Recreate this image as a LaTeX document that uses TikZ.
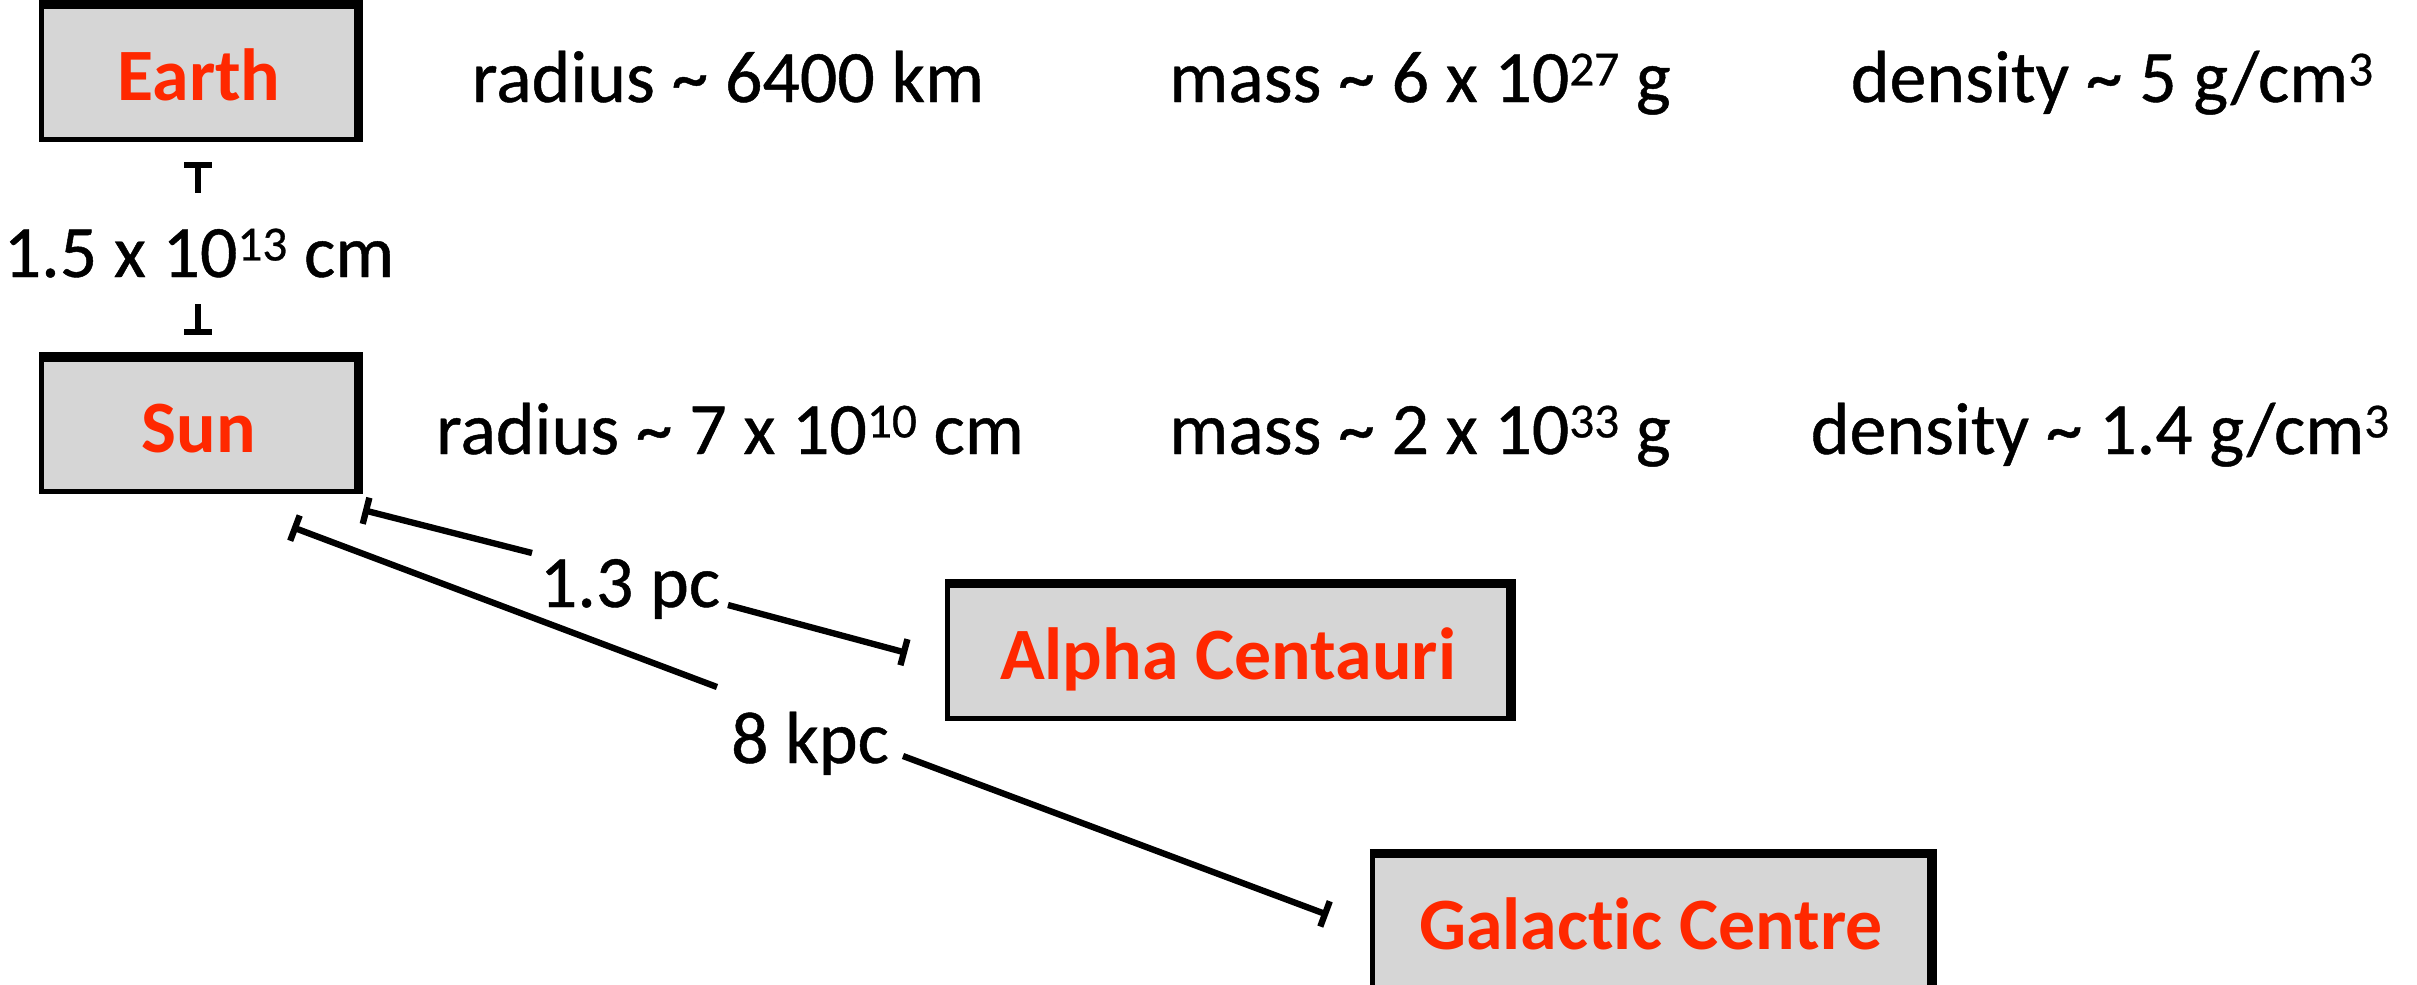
\documentclass[tikz,border=0pt]{standalone}
\usepackage{fontspec}
\setmainfont[Ligatures={NoCommon}, UprightFeatures={FakeBold=0.6}]{Carlito}
\usetikzlibrary{arrows.meta,calc}
\definecolor{boxgray}{RGB}{214,214,214}
\definecolor{labred}{RGB}{255,40,0}
\newcommand\supnum[1]{\raisebox{4.7pt}{\fontsize{14}{14}\selectfont #1}}
\begin{document}
\begin{tikzpicture}[x=0.01cm,y=-0.01cm,
  font=\fontsize{21}{25}\selectfont,
  box/.style={draw=black, fill=boxgray, line width=1.4pt, inner sep=0pt,
    text=labred, font=\fontsize{21}{25}\selectfont\bfseries,
    text height=0.54cm, text depth=0pt, minimum height=1.32cm},
  brush/.style={line width=2.8pt, line cap=butt},
  info/.style={anchor=base, inner sep=0pt},
  dim/.style={line width=1.8pt},
  tbar/.style={dim, {Bar[width=0.27cm]}-},
  ebar/.style={dim, -{Bar[width=0.27cm]}}]
\useasboundingbox (0,0) rectangle (2417,984);

% boxes
\node[box, minimum width=3.14cm] (earth) at (199,73) {Earth};
\node[box, minimum width=3.14cm] (sun) at (199,425.5) {Sun};
\node[box, minimum width=5.6cm] (alpha) at (1228,652) {Alpha Centauri};
\node[box, minimum width=5.57cm] (gc) at (1651,922) {Galactic Centre};
\foreach \n in {earth,sun,alpha,gc}
  \draw[brush] (\n.north west) -- (\n.north east) -- (\n.south east);

% row texts
\node[info] (er) at (728,102) {radius \textasciitilde{} 6400 km};
\node[info] (em) at (1420,102) {mass \textasciitilde{} 6 x 10\supnum{27} g};
\node[info] (ed) at (2112,102) {density \textasciitilde{} 5 g/cm\supnum{3}};
\node[info] (sr) at (730,454) {radius \textasciitilde{} 7 x 10\supnum{10} cm};
\node[info] (sm) at (1420,454) {mass \textasciitilde{} 2 x 10\supnum{33} g};
\node[info] (sd) at (2100,454) {density \textasciitilde{} 1.4 g/cm\supnum{3}};

% Earth - Sun distance
\coordinate (v1) at (198,162);
\coordinate (v2) at (198,193);
\coordinate (v3) at (198,304);
\coordinate (v4) at (198,335);
\node[info] (des) at (199,277) {1.5 x 10\supnum{13} cm};
\draw[tbar] (v1) -- (v2);
\draw[ebar] (v3) -- (v4);

% Sun - Alpha Centauri
\coordinate (a1) at (363,510);
\coordinate (a2) at (532,553);
\coordinate (a3) at (728,605);
\coordinate (a4) at (907,653);
\node[info] (dac) at (630,607) {1.3 pc};
\draw[tbar] (a1) -- (a2);
\draw[ebar] (a3) -- (a4);

% Sun - Galactic Centre
\coordinate (g1) at (292,527);
\coordinate (g2) at (717,687);
\coordinate (g3) at (903,756);
\coordinate (g4) at (1328,915);
\node[info] (dgc) at (810,763) {8 kpc};
\draw[tbar] (g1) -- (g2);
\draw[ebar] (g3) -- (g4);
\end{tikzpicture}
\end{document}
